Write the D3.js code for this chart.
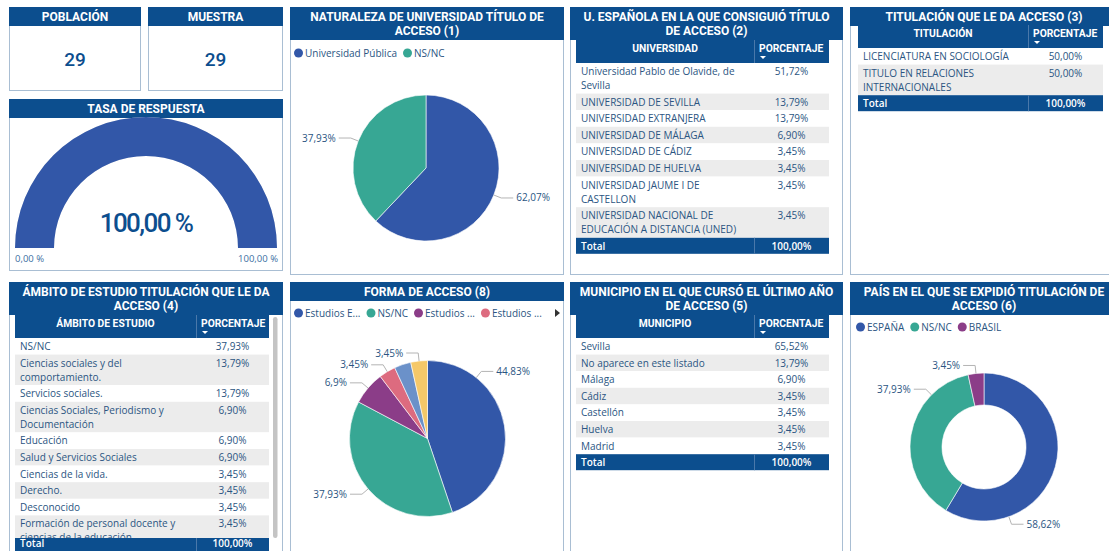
<!DOCTYPE html>
<html>
<head>
<meta charset="utf-8">
<script src="https://cdn.jsdelivr.net/npm/d3@7"></script>
<style>
  body { margin: 0; background: #fff; overflow: hidden; }
  svg { display: block; font-family: "Open Sans", "Noto Sans", sans-serif; }
</style>
</head>
<body>
<div id="dash"></div>
<script>
// ---- data ----
const poblacion = 29;
const muestra = 29;
const tasaRespuesta = 100;
const tasaRange = [0, 100];

const naturalezaCats = ["Universidad Pública", "NS/NC"];
const naturalezaVals = [62.07, 37.93];

const universidades = [
  "Universidad Pablo de Olavide, de Sevilla",
  "UNIVERSIDAD DE SEVILLA",
  "UNIVERSIDAD EXTRANJERA",
  "UNIVERSIDAD DE MÁLAGA",
  "UNIVERSIDAD DE CÁDIZ",
  "UNIVERSIDAD DE HUELVA",
  "UNIVERSIDAD JAUME I DE CASTELLON",
  "UNIVERSIDAD NACIONAL DE EDUCACIÓN A DISTANCIA (UNED)",
];
const universidadPct = [51.72, 13.79, 13.79, 6.9, 3.45, 3.45, 3.45, 3.45];

const titulaciones = ["LICENCIATURA EN SOCIOLOGÍA", "TITULO EN RELACIONES INTERNACIONALES"];
const titulacionPct = [50, 50];

const ambitos = [
  "NS/NC",
  "Ciencias sociales y del comportamiento.",
  "Servicios sociales.",
  "Ciencias Sociales, Periodismo y Documentación",
  "Educación",
  "Salud y Servicios Sociales",
  "Ciencias de la vida.",
  "Derecho.",
  "Desconocido",
  "Formación de personal docente y ciencias de la educación",
];
const ambitoPct = [37.93, 13.79, 13.79, 6.9, 6.9, 6.9, 3.45, 3.45, 3.45, 3.45];

const formaCats = ["Estudios E...", "NS/NC", "Estudios ...", "Estudios ...", "Estudios ...", "Estudios ..."];
const formaVals = [44.83, 37.93, 6.9, 3.45, 3.45, 3.45];

const municipios = ["Sevilla", "No aparece en este listado", "Málaga", "Cádiz", "Castellón", "Huelva", "Madrid"];
const municipioPct = [65.52, 13.79, 6.9, 3.45, 3.45, 3.45, 3.45];

const paisCats = ["ESPAÑA", "NS/NC", "BRASIL"];
const paisVals = [58.62, 37.93, 3.45];

const totalPct = 100;

// ---- styling ----
const W = 1109, H = 551;
const HEAD = "#0c4e8e";
const TXT = "#2b5582";
const BORDER = "#a9bed3";
const ZEBRA = "#ececec";
const palette = ["#3257a8", "#37a794", "#8b3d88", "#dd6b7f", "#6b91c9", "#f5c869"];
const TITLE_FONT = "Roboto, sans-serif";
const BODY = 10;

const es = d3.formatLocale({ decimal: ",", thousands: ".", grouping: [3], currency: ["", " €"] });
const fmtTable = (v) => es.format(".2f")(v) + "%";
const fmtPie = (v) => es.format(".2~f")(v) + "%";
const fmtGauge = (v) => es.format(".2f")(v) + " %";

const svg = d3.select("#dash").append("svg").attr("width", W).attr("height", H);

// hidden text used for measuring / wrapping
const meas = svg.append("text").attr("visibility", "hidden");
function textWidth(str, size) {
  meas.attr("font-size", size).text(str);
  return meas.node().getComputedTextLength();
}
function wrap(str, maxW, size) {
  const words = str.split(" ");
  const lines = [];
  let cur = "";
  words.forEach((w) => {
    const test = cur ? cur + " " + w : w;
    if (cur && textWidth(test, size) > maxW) {
      lines.push(cur);
      cur = w;
    } else cur = test;
  });
  lines.push(cur);
  return lines;
}

// panel frame with blue title header
function panel(p, titleLines) {
  const g = svg.append("g").attr("transform", `translate(${p.x},${p.y})`);
  g.append("rect").attr("x", 0.5).attr("y", 0.5)
    .attr("width", p.w - 1).attr("height", p.h - 1)
    .attr("fill", "#fff").attr("stroke", BORDER);
  const hh = titleLines.length * 14 + 5;
  g.append("rect").attr("width", p.w).attr("height", hh).attr("fill", HEAD);
  g.append("text")
    .attr("font-family", TITLE_FONT).attr("font-weight", 700)
    .attr("font-size", 12).attr("fill", "#fff").attr("text-anchor", "middle")
    .selectAll("tspan").data(titleLines).join("tspan")
    .attr("x", p.w / 2).attr("y", (d, i) => 13.5 + i * 14)
    .text((d) => d);
  return { g, hh };
}

// Power BI style table
function table(g, o) {
  const rowsG = g.append("g");
  // header row
  g.append("rect").attr("x", o.x).attr("y", o.y).attr("width", o.w).attr("height", 23).attr("fill", HEAD);
  g.append("line").attr("x1", o.x + o.c1 + 0.5).attr("x2", o.x + o.c1 + 0.5)
    .attr("y1", o.y).attr("y2", o.y + 23).attr("stroke", "#4a78aa");
  g.append("text").attr("x", o.x + o.c1 / 2).attr("y", o.y + 12)
    .attr("text-anchor", "middle").attr("font-family", TITLE_FONT).attr("font-weight", 700)
    .attr("font-size", 10.3).attr("fill", "#fff").text(o.head);
  g.append("text").attr("x", o.x + o.c1 + 5).attr("y", o.y + 12)
    .attr("font-family", TITLE_FONT).attr("font-weight", 700)
    .attr("font-size", 10.3).attr("fill", "#fff").text("PORCENTAJE");
  g.append("path").attr("d", d3.line()([[o.x + o.c1 + 6, o.y + 16], [o.x + o.c1 + 12, o.y + 16], [o.x + o.c1 + 9, o.y + 19]]))
    .attr("fill", "#fff");

  // body
  let yy = o.y + 23;
  const clipId = "clip" + Math.round(o.x) + "_" + Math.round(o.y) + "_" + o.head.length;
  const bottom = o.maxY || 9999;
  g.append("clipPath").attr("id", clipId).append("rect")
    .attr("x", o.x).attr("y", yy).attr("width", o.w).attr("height", bottom - yy);
  rowsG.attr("clip-path", `url(#${clipId})`);
  o.labels.forEach((lab, i) => {
    const lines = wrap(lab, o.c1 - 12, BODY);
    const rh = 16.6 + (lines.length - 1) * 14;
    const r = rowsG.append("g");
    r.append("rect").attr("x", o.x).attr("y", yy).attr("width", o.w).attr("height", rh)
      .attr("fill", i % 2 ? ZEBRA : "#fff");
    r.append("text").attr("font-size", BODY).attr("fill", TXT)
      .selectAll("tspan").data(lines).join("tspan")
      .attr("x", o.x + 5).attr("y", (d, k) => yy + 12 + k * 14).text((d) => d);
    r.append("text").attr("font-size", BODY).attr("fill", TXT).attr("text-anchor", "middle")
      .attr("x", o.x + o.c1 + (o.w - o.c1) / 2).attr("y", yy + 12).text(fmtTable(o.values[i]));
    yy += rh;
  });
  const clipped = yy > bottom;
  const ty = Math.min(yy, bottom);
  const tb = ty + (clipped ? 9 : 12);
  g.append("rect").attr("x", o.x).attr("y", ty).attr("width", o.w).attr("height", 16).attr("fill", HEAD);
  g.append("line").attr("x1", o.x + o.c1 + 0.5).attr("x2", o.x + o.c1 + 0.5)
    .attr("y1", ty).attr("y2", ty + 16).attr("stroke", "#4a78aa");
  g.append("text").attr("x", o.x + 5).attr("y", tb).attr("font-size", BODY)
    .attr("font-weight", 600).attr("fill", "#fff").text("Total");
  g.append("text").attr("x", o.x + o.c1 + (o.w - o.c1) / 2).attr("y", tb)
    .attr("text-anchor", "middle").attr("font-size", BODY).attr("font-weight", 600)
    .attr("fill", "#fff").text(fmtTable(totalPct));
}

// legend row of dots
function legend(g, x, y, cats, maxItems) {
  let cx = x;
  cats.slice(0, maxItems).forEach((c, i) => {
    g.append("circle").attr("cx", cx + 4.5).attr("cy", y).attr("r", 4.5).attr("fill", palette[i]);
    const t = g.append("text").attr("x", cx + 11).attr("y", y + 3.5)
      .attr("font-size", 10).attr("fill", TXT).text(c);
    cx += 11 + t.node().getComputedTextLength() + 6;
  });
}

// pie / donut with leader-line labels
function pieChart(g, o) {
  const pie = d3.pie().sort(null).value((d) => d)(o.vals);
  const arc = d3.arc().innerRadius(o.inner || 0).outerRadius(o.r);
  const pg = g.append("g").attr("transform", `translate(${o.cx},${o.cy})`);
  pg.selectAll("path.slice").data(pie).join("path").attr("class", "slice")
    .attr("d", arc).attr("fill", (d, i) => palette[i])
    .attr("stroke", "#fff").attr("stroke-width", 0.6);
  pie.forEach((d, i) => {
    if (o.hide && o.hide.includes(i)) return;
    const t = o.labelAt ? o.labelAt[i] : 0.5;
    const a = d.startAngle + (d.endAngle - d.startAngle) * t;
    const s = Math.sin(a), c = -Math.cos(a);
    const p0 = [o.r * s, o.r * c];
    const p1 = [(o.r + 8) * s, (o.r + 8) * c];
    const dir = s >= 0 ? 1 : -1;
    const p2 = [p1[0] + dir * 12, p1[1]];
    pg.append("path").attr("d", d3.line()([p0, p1, p2]))
      .attr("fill", "none").attr("stroke", "#b4b4b4").attr("stroke-width", 1);
    pg.append("text").attr("x", p2[0] + dir * 3).attr("y", p2[1] + 3.5)
      .attr("text-anchor", dir > 0 ? "start" : "end")
      .attr("font-size", 10).attr("fill", TXT).text(fmtPie(o.vals[i]));
  });
}

// ---- KPI cards ----
[[{ x: 9, y: 7, w: 132, h: 84 }, "POBLACIÓN", poblacion],
 [{ x: 148, y: 7, w: 135, h: 84 }, "MUESTRA", muestra]].forEach(([p, title, v]) => {
  const { g } = panel(p, [title]);
  g.append("text").attr("x", p.w / 2).attr("y", 59)
    .attr("text-anchor", "middle").attr("font-family", TITLE_FONT).attr("font-weight", 500)
    .attr("font-size", 19).attr("fill", HEAD).text(v);
});

// ---- gauge ----
{
  const p = { x: 9, y: 99, w: 274, h: 172 };
  const { g } = panel(p, ["TASA DE RESPUESTA"]);
  const angle = d3.scaleLinear().domain(tasaRange).range([-Math.PI / 2, Math.PI / 2]);
  const arc = d3.arc().innerRadius(92).outerRadius(131);
  const gg = g.append("g").attr("transform", `translate(${p.w / 2},149)`);
  gg.append("path").attr("d", arc({ startAngle: angle(tasaRange[0]), endAngle: angle(tasaRange[1]) }))
    .attr("fill", "#e6e6e6");
  gg.append("path").attr("d", arc({ startAngle: angle(tasaRange[0]), endAngle: angle(tasaRespuesta) }))
    .attr("fill", palette[0]);
  gg.append("text").attr("x", 0).attr("y", -16).attr("text-anchor", "middle")
    .attr("font-family", TITLE_FONT).attr("font-weight", 500).attr("font-size", 26).attr("letter-spacing", -1.6)
    .attr("fill", HEAD).text(fmtGauge(tasaRespuesta));
  g.append("text").attr("x", 6).attr("y", 163).attr("font-size", 9.5).attr("fill", "#3d6fa3")
    .text(fmtGauge(tasaRange[0]));
  g.append("text").attr("x", p.w - 5).attr("y", 163).attr("text-anchor", "end")
    .attr("font-size", 9.5).attr("fill", "#3d6fa3").text(fmtGauge(tasaRange[1]));
}

// ---- naturaleza pie ----
{
  const p = { x: 290, y: 7, w: 274, h: 268 };
  const { g } = panel(p, ["NATURALEZA DE UNIVERSIDAD TÍTULO DE", "ACCESO (1)"]);
  legend(g, 4, 46, naturalezaCats, 2);
  pieChart(g, { cx: 136, cy: 161, r: 73, cats: naturalezaCats, vals: naturalezaVals });
}

// ---- universidad table ----
{
  const p = { x: 570, y: 7, w: 273, h: 268 };
  const { g } = panel(p, ["U. ESPAÑOLA EN LA QUE CONSIGUIÓ TÍTULO", "DE ACCESO (2)"]);
  table(g, { x: 6, y: 33, w: 253, c1: 178, head: "UNIVERSIDAD", labels: universidades, values: universidadPct });
}

// ---- titulación table ----
{
  const p = { x: 850, y: 7, w: 268, h: 268 };
  const { g } = panel(p, ["TITULACIÓN QUE LE DA ACCESO (3)"]);
  table(g, { x: 8, y: 18, w: 245, c1: 170, head: "TITULACIÓN", labels: titulaciones, values: titulacionPct });
}

// ---- ámbito table (scrolled) ----
{
  const p = { x: 9, y: 282, w: 274, h: 290 };
  const { g } = panel(p, ["ÁMBITO DE ESTUDIO TITULACIÓN QUE LE DA", "ACCESO (4)"]);
  table(g, { x: 6, y: 33, w: 254, c1: 181, head: "ÁMBITO DE ESTUDIO", labels: ambitos, values: ambitoPct, maxY: 256 });
  g.append("rect").attr("x", 264).attr("y", 35).attr("width", 4.5).attr("height", 221)
    .attr("rx", 2.2).attr("fill", "#c4c4c4");
}

// ---- forma de acceso pie ----
{
  const p = { x: 290, y: 282, w: 274, h: 290 };
  const { g } = panel(p, ["FORMA DE ACCESO (8)"]);
  legend(g, 4, 31, formaCats, 4);
  g.append("path").attr("d", d3.line()([[265, 27], [270, 31], [265, 35]])).attr("fill", "#333");
  pieChart(g, {
    cx: 137.5, cy: 156.5, r: 78, cats: formaCats, vals: formaVals,
    labelAt: [0.24, 0.5, 0.5, 0.5, 0.5, 0.5], hide: [4],
  });
}

// ---- municipio table ----
{
  const p = { x: 570, y: 282, w: 273, h: 290 };
  const { g } = panel(p, ["MUNICIPIO EN EL QUE CURSÓ EL ÚLTIMO AÑO", "DE ACCESO (5)"]);
  table(g, { x: 6, y: 33, w: 253, c1: 178, head: "MUNICIPIO", labels: municipios, values: municipioPct });
}

// ---- país donut ----
{
  const p = { x: 850, y: 282, w: 268, h: 290 };
  const { g } = panel(p, ["PAÍS EN EL QUE SE EXPIDIÓ TITULACIÓN DE", "ACCESO (6)"]);
  legend(g, 6, 45, paisCats, 3);
  pieChart(g, {
    cx: 134, cy: 165, r: 74, inner: 42, cats: paisCats, vals: paisVals,
    labelAt: [0.76, 0.76, 0.5],
  });
}
</script>
</body>
</html>
